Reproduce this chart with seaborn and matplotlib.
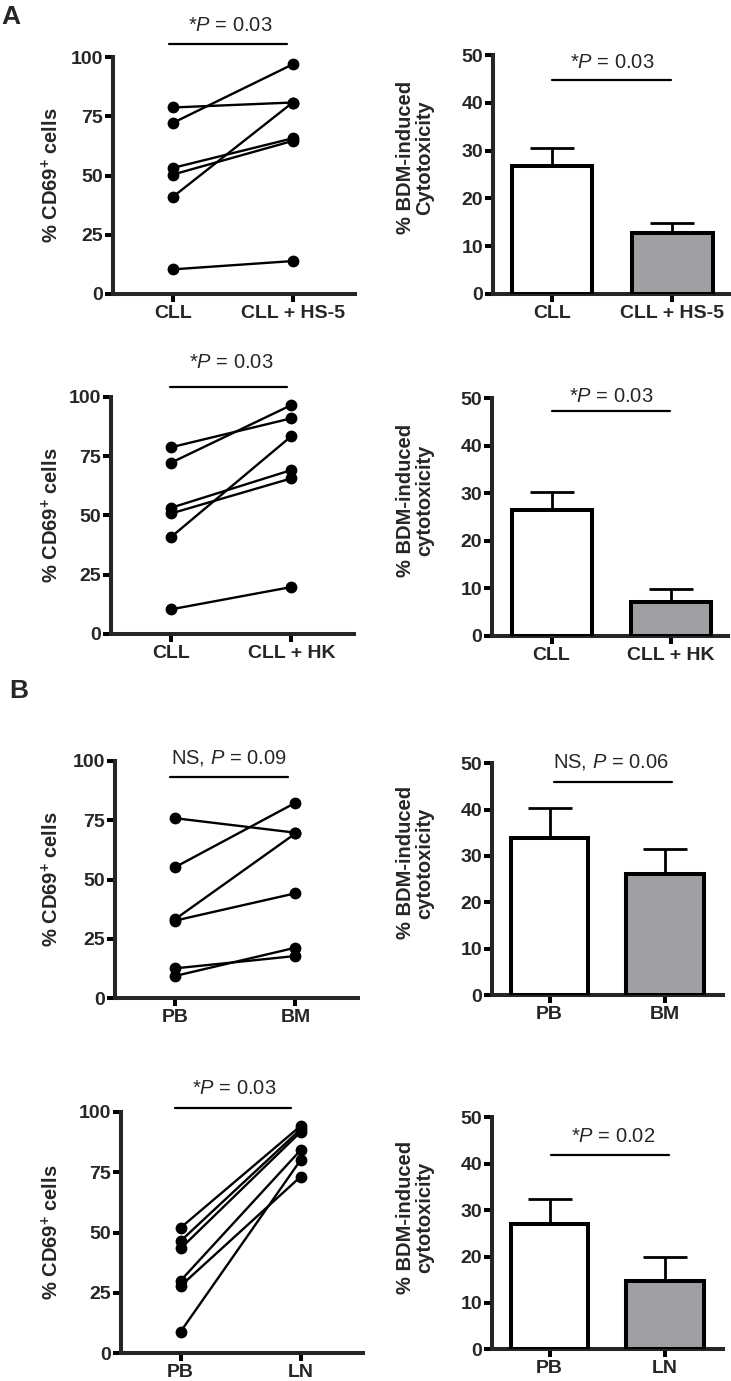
import numpy as np
import pandas as pd
import matplotlib
matplotlib.use("Agg")
import matplotlib.pyplot as plt
import seaborn as sns

# ---------------- data ----------------
p1_labels = ["CLL", "CLL + HS-5"]
p1_a = [78.7, 72.2, 53.2, 50.4, 41.0, 10.4]
p1_b = [80.8, 96.9, 65.7, 64.6, 80.8, 13.9]

p2_labels = ["CLL", "CLL + HK"]
p2_a = [78.7, 72.2, 53.2, 50.8, 40.9, 10.4]
p2_b = [90.9, 96.5, 69.1, 65.6, 83.4, 19.8]

p3_labels = ["PB", "BM"]
p3_a = [75.8, 55.2, 33.3, 32.7, 12.6, 9.4]
p3_b = [69.7, 82.3, 69.4, 44.2, 17.8, 21.3]

p4_labels = ["PB", "LN"]
p4_a = [52.0, 46.5, 43.4, 30.1, 27.9, 9.0]
p4_b = [94.1, 92.7, 91.6, 84.1, 73.1, 80.0]

b1_mean = [26.8, 12.8]; b1_err = [3.8, 2.1]
b2_mean = [26.6, 7.2];  b2_err = [3.6, 2.7]
b3_mean = [33.8, 26.1]; b3_err = [6.5, 5.4]
b4_mean = [27.0, 14.7]; b4_err = [5.4, 5.3]

p_texts_left = [r"*$\mathit{P}$ = 0.03", r"*$\mathit{P}$ = 0.03",
                r"NS, $\mathit{P}$ = 0.09", r"*$\mathit{P}$ = 0.03"]
p_texts_right = [r"*$\mathit{P}$ = 0.03", r"*$\mathit{P}$ = 0.03",
                 r"NS, $\mathit{P}$ = 0.06", r"*$\mathit{P}$ = 0.02"]
bar_ylabels = ["% BDM-induced\nCytotoxicity", "% BDM-induced\ncytotoxicity",
               "% BDM-induced\ncytotoxicity", "% BDM-induced\ncytotoxicity"]
line_ylabel = r"% CD69$^{\mathbf{+}}$ cells"

# ---------------- style ----------------
sns.set_style("ticks")
plt.rcParams["font.family"] = ["Liberation Sans", "DejaVu Sans"]
plt.rcParams["mathtext.fontset"] = "custom"
plt.rcParams["mathtext.rm"] = "Liberation Sans"
plt.rcParams["mathtext.it"] = "Liberation Sans:italic"
plt.rcParams["mathtext.bf"] = "Liberation Sans:bold"
plt.rcParams["axes.linewidth"] = 2.9

W, H = 731, 1381
fig = plt.figure(figsize=(W / 100, H / 100), dpi=100)
GRAY = "#a0a0a4"
FS_TICK = 14
FS_LAB = 14.5
FS_P = 14.5


def add_ax(left, right, y0, ytop):
    return fig.add_axes([left / W, (H - y0) / H, (right - left) / W, (y0 - ytop) / H])


def style_ax(ax, ymax, step, labels, xlim):
    ax.set_ylim(0, ymax)
    ax.set_xlim(*xlim)
    ax.set_yticks(np.arange(0, ymax + 0.1, step))
    ax.set_xticks([0, 1])
    ax.set_xticklabels(labels)
    for s in ["top", "right"]:
        ax.spines[s].set_visible(False)
    ax.tick_params(axis="both", width=2.9, length=6, direction="out",
                   labelsize=FS_TICK, color="black")
    ax.tick_params(axis="y", pad=1)
    ax.tick_params(axis="x", pad=2)
    for t in ax.get_xticklabels() + ax.get_yticklabels():
        t.set_fontweight("bold")
    ax.set_xlabel("")


# (axis x, right end x, y of 0, y of top)
left_geo = [(113, 355, 294, 57), (111, 354, 634, 396.7),
            (115, 358, 998.3, 760.7), (120.7, 363, 1353.3, 1111.7)]
right_geo = [(493, 730, 294, 55), (492, 728, 636, 398.3),
             (491.7, 723, 995, 763.3), (491.7, 723, 1349.3, 1117.3)]
right_xlim = [(-0.49, 1.48), (-0.5, 1.48), (-0.5, 1.5), (-0.5, 1.5)]

# significance annotation geometry (data coords): x0, x1, line y, text x, text y
left_sig = [(-0.03, 0.95, 105.5, 0.475, 113.5), (-0.01, 0.96, 104.2, 0.5, 114.6),
            (-0.045, 0.94, 93.3, 0.45, 101.0), (-0.05, 0.92, 101.7, 0.45, 109.7)]
right_sig = [(0.0, 0.99, 44.8, 0.5, 48.5), (0.0, 0.99, 47.4, 0.5, 50.3),
             (0.035, 1.06, 46.0, 0.53, 50.3), (0.01, 1.03, 41.9, 0.55, 45.8)]

line_sets = [(p1_labels, p1_a, p1_b), (p2_labels, p2_a, p2_b),
             (p3_labels, p3_a, p3_b), (p4_labels, p4_a, p4_b)]
bar_sets = [(p1_labels, b1_mean, b1_err), (p2_labels, b2_mean, b2_err),
            (p3_labels, b3_mean, b3_err), (p4_labels, b4_mean, b4_err)]

for i in range(4):
    # ---- paired line plot ----
    lx, rx, y0, yt = left_geo[i]
    ax = add_ax(lx, rx, y0, yt)
    labels, a, b = line_sets[i]
    n = len(a)
    df = pd.DataFrame({
        "pos": [0] * n + [1] * n,
        "val": list(a) + list(b),
        "pair": list(range(n)) * 2,
    })
    sns.lineplot(data=df, x="pos", y="val", units="pair", estimator=None,
                 color="black", linewidth=1.7, marker="o", markersize=8.5,
                 markeredgewidth=0, ax=ax, legend=False)
    for ln in ax.lines:
        ln.set_clip_on(False)
    style_ax(ax, 100, 25, labels, (-0.5, 1.52))
    ax.set_ylabel(line_ylabel, fontsize=FS_LAB, fontweight="bold")
    ax.yaxis.set_label_coords(-(lx - 62) / (rx - lx), 0.5)
    x0, x1, ly, tx, ty = left_sig[i]
    ax.plot([x0, x1], [ly, ly], color="black", lw=1.6, clip_on=False)
    ax.text(tx, ty, p_texts_left[i], ha="center", va="center", fontsize=FS_P)

    # ---- bar plot ----
    lx, rx, y0, yt = right_geo[i]
    ax = add_ax(lx, rx, y0, yt)
    labels, m, e = bar_sets[i]
    bdf = pd.DataFrame({"grp": labels, "val": m})
    sns.barplot(data=bdf, x="grp", y="val", hue="grp", palette=["white", GRAY],
                edgecolor="black", linewidth=2.9, width=0.67, ax=ax,
                legend=False, zorder=3)
    ax.errorbar([0, 1], m, yerr=[[0, 0], e], fmt="none", ecolor="black",
                elinewidth=2.0, capsize=15.5, capthick=2.0, zorder=2)
    style_ax(ax, 50, 10, labels, right_xlim[i])
    ax.set_ylabel(bar_ylabels[i], fontsize=FS_LAB, fontweight="bold", linespacing=1.0)
    ax.yaxis.set_label_coords(-(lx - 434) / (rx - lx), 0.57)
    x0, x1, ly, tx, ty = right_sig[i]
    ax.plot([x0, x1], [ly, ly], color="black", lw=1.6, clip_on=False)
    ax.text(tx, ty, p_texts_right[i], ha="center", va="center", fontsize=FS_P)

fig.text(1 / W, 1 - 24 / H, "A", fontsize=19, fontweight="bold", va="baseline", ha="left")
fig.text(9 / W, 1 - 698 / H, "B", fontsize=19, fontweight="bold", va="baseline", ha="left")

fig.savefig("out.png", dpi=100)
